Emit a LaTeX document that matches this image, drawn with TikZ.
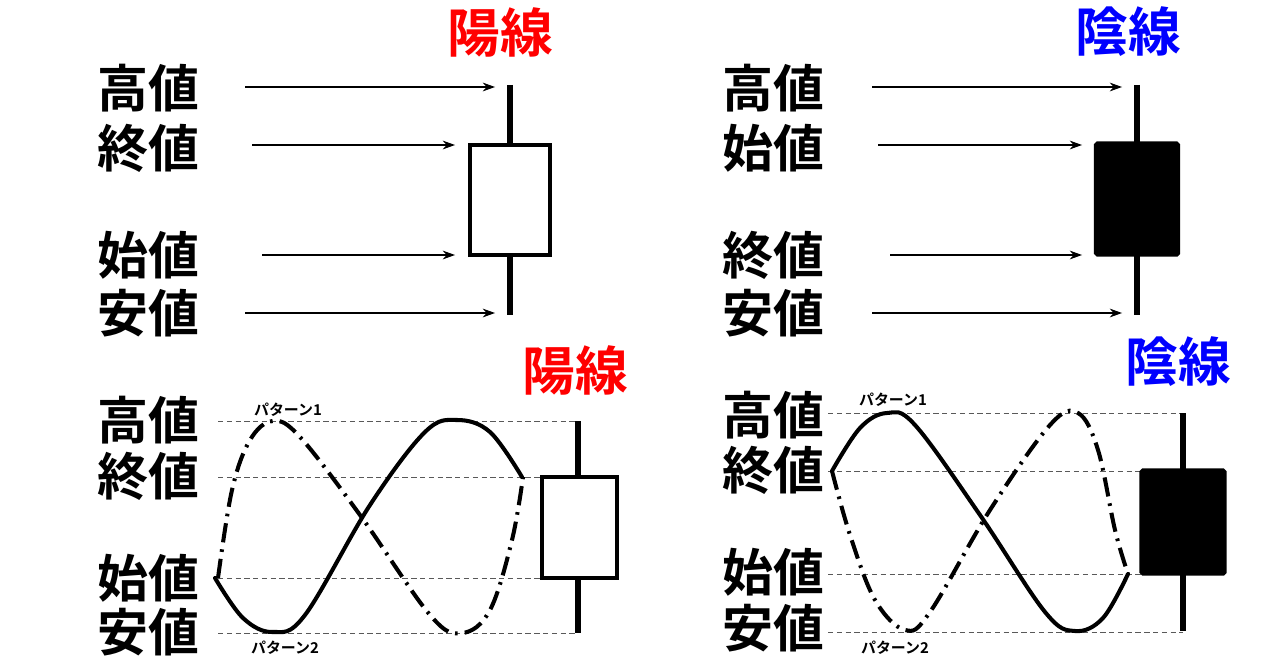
\documentclass[tikz,border=0pt]{standalone}
\usepackage{fontspec}
\newfontfamily\jp{Noto Sans CJK JP Bold}
\usetikzlibrary{arrows.meta}
\begin{document}
\begin{tikzpicture}[x=0.02cm,y=-0.02cm,
 lab/.style={font=\jp\fontsize{29}{30}\selectfont,inner sep=0},
 ttl/.style={font=\jp\fontsize{30}{31}\selectfont,inner sep=0},
 pat/.style={font=\jp\fontsize{8.5}{9}\selectfont,inner sep=0},
 arr/.style={-{Stealth[length=7pt,width=5pt]},line width=0.6pt},
 wick/.style={line width=3.4pt},
 box/.style={draw,line width=1.8pt},
 guide/.style={densely dashed,line width=0.4pt,gray!70!black},
 sol/.style={line width=2.3pt,line cap=round},
 dd/.style={line width=2.3pt,dash pattern=on 11pt off 4pt on 1.5pt off 4pt}]
\useasboundingbox (0,0) rectangle (1280,669);
% ---------- top left
\node[ttl,text=red] (t1) at (500,32) {陽線};
\node[lab] (a1) at (148,88) {高値};
\node[lab] (a2) at (148,148) {終値};
\node[lab] (a3) at (148,255) {始値};
\node[lab] (a4) at (148,313) {安値};
\draw[wick] (510,85) coordinate (w1t) -- (510,315) coordinate (w1b);
\node[box,fill=white,minimum width=80*0.02cm,minimum height=110*0.02cm,inner sep=0] (b1) at (510,200) {};
\coordinate (p1) at (495,87); \coordinate (p2) at (455,145);
\coordinate (p3) at (455,255); \coordinate (p4) at (495,313);
\draw[arr] (245,87) -- (p1); \draw[arr] (252,145) -- (p2);
\draw[arr] (262,255) -- (p3); \draw[arr] (245,313) -- (p4);
% ---------- top right
\node[ttl,text=blue] (t2) at (1128,32) {陰線};
\node[lab] (c1) at (773,88) {高値};
\node[lab] (c2) at (773,148) {始値};
\node[lab] (c3) at (773,255) {終値};
\node[lab] (c4) at (773,313) {安値};
\draw[wick] (1137,85) -- (1137,315);
\node[box,fill=black,minimum width=83*0.02cm,minimum height=112*0.02cm,inner sep=0,rounded corners=1pt] (b2) at (1137,199) {};
\coordinate (q1) at (1122,87); \coordinate (q2) at (1082,145);
\coordinate (q3) at (1082,255); \coordinate (q4) at (1122,313);
\draw[arr] (872,87) -- (q1); \draw[arr] (878,145) -- (q2);
\draw[arr] (890,255) -- (q3); \draw[arr] (872,313) -- (q4);
% ---------- bottom left
\node[ttl,text=red] (t3) at (575,370) {陽線};
\node[lab] (d1) at (148,420) {高値};
\node[lab] (d2) at (148,476) {終値};
\node[lab] (d3) at (148,578) {始値};
\node[lab] (d4) at (148,632) {安値};
\draw[guide] (218,421) -- (578,421);
\draw[guide] (218,477) -- (542,477);
\draw[guide] (218,578) -- (542,578);
\draw[guide] (218,633) -- (578,633);
\draw[wick] (578,421) -- (578,633);
\node[box,fill=white,minimum width=75*0.02cm,minimum height=101*0.02cm,inner sep=0] (b3) at (579.5,527.5) {};
\draw[sol] plot[smooth,tension=0.6] coordinates {(215,578) (243,618) (273,632) (305,615) (370,505) (425,432) (457,420) (490,432) (522,477)};
\draw[dd] plot[smooth,tension=0.6] coordinates {(218,578) (232,490) (250,440) (273,421) (300,437) (360,515) (430,615) (462,633) (490,610) (512,540) (523,477)};
\node[pat] (e1) at (288,410) {パターン1};
\node[pat] (e2) at (285,648) {パターン2};
% ---------- bottom right
\node[ttl,text=blue] (t4) at (1178,362) {陰線};
\node[lab] (f1) at (773,415) {高値};
\node[lab] (f2) at (773,470) {終値};
\node[lab] (f3) at (773,572) {始値};
\node[lab] (f4) at (773,628) {安値};
\draw[guide] (828,413) -- (1183,413);
\draw[guide] (828,471) -- (1141,471);
\draw[guide] (828,574) -- (1141,574);
\draw[guide] (828,632) -- (1183,632);
\draw[wick] (1183,413) -- (1183,631);
\node[box,fill=black,minimum width=84*0.02cm,minimum height=104*0.02cm,inner sep=0,rounded corners=1pt] (b4) at (1183,522) {};
\draw[sol] plot[smooth,tension=0.6] coordinates {(832,471) (860,428) (887,413) (915,425) (980,515) (1045,612) (1075,631) (1103,618) (1128,574)};
\draw[dd] plot[smooth,tension=0.6] coordinates {(832,471) (850,535) (875,600) (905,630) (930,612) (990,510) (1050,425) (1078,413) (1098,450) (1115,530) (1128,574)};
\node[pat] (g1) at (893,400) {パターン1};
\node[pat] (g2) at (895,648) {パターン2};
\end{tikzpicture}
\end{document}
